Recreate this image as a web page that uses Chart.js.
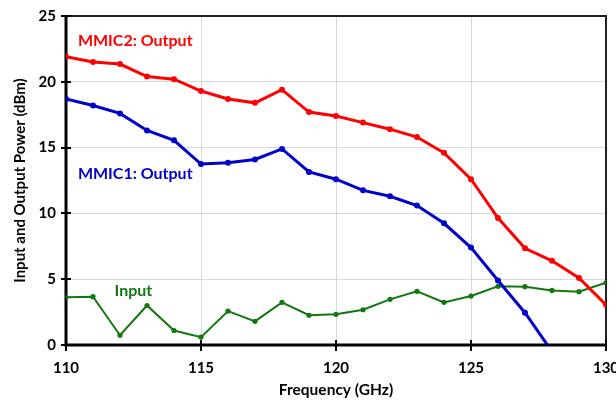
<!DOCTYPE html>
<html><head><meta charset="utf-8">
<script src="https://cdn.jsdelivr.net/npm/chart.js@4.4.1/dist/chart.umd.min.js"></script>
<style>html,body{margin:0;padding:0;background:#fff}#wrap{width:616px;height:402px}</style>
</head><body><div id="wrap"><canvas id="c" width="616" height="402"></canvas></div>
<script>
const freqs = [110,111,112,113,114,115,116,117,118,119,120,121,122,123,124,125,126,127,128,129,130];
const mmic2Output = [21.9,21.5,21.35,20.4,20.2,19.3,18.7,18.4,19.4,17.7,17.4,16.9,16.4,15.8,14.6,12.6,9.65,7.35,6.4,5.1,3.05];
const mmic1Output = [18.7,18.2,17.6,16.3,15.55,13.75,13.85,14.1,14.9,13.15,12.6,11.75,11.3,10.6,9.25,7.4,4.9,2.45,-0.5];
const inputPower = [3.62,3.67,0.74,3.0,1.1,0.6,2.58,1.8,3.24,2.26,2.33,2.68,3.47,4.08,3.24,3.72,4.46,4.43,4.15,4.05,4.73];
const xTicks = [110,115,120,125,130];
const yTicks = [0,5,10,15,20,25];
const annotations = [
  {text:'MMIC2: Output', x:110.44, y:23.1, color:'#ff0000'},
  {text:'MMIC1: Output', x:110.44, y:13.0, color:'#0000cc'},
  {text:'Input', x:111.8, y:4.1, color:'#117711'}
];

const toPts = (vals) => vals.map((v,i)=>({x:freqs[i], y:v}));
const FONT = 'Lato, Carlito, Calibri, sans-serif';

const framePlugin = {
  id:'frame',
  beforeDatasetsDraw(chart){
    const {ctx, chartArea:a, scales:{x,y}} = chart;
    ctx.save();
    ctx.strokeStyle = '#222';
    ctx.lineWidth = 2;
    ctx.beginPath();
    ctx.moveTo(a.left, a.top); ctx.lineTo(a.right, a.top); ctx.lineTo(a.right, a.bottom);
    ctx.stroke();
    ctx.strokeStyle = '#000';
    ctx.lineWidth = 3;
    ctx.beginPath();
    ctx.moveTo(a.left, a.top-1); ctx.lineTo(a.left, a.bottom); ctx.lineTo(a.right+1, a.bottom);
    ctx.stroke();
    ctx.lineWidth = 2;
    ctx.beginPath();
    yTicks.forEach(t=>{const py=Math.round(y.getPixelForValue(t)); ctx.moveTo(a.left-5,py); ctx.lineTo(a.left+5,py);});
    xTicks.forEach(t=>{const px=Math.round(x.getPixelForValue(t)); ctx.moveTo(px,a.bottom-5); ctx.lineTo(px,a.bottom+6);});
    ctx.stroke();
    ctx.restore();
  },
  afterDatasetsDraw(chart){
    const {ctx, scales:{x,y}} = chart;
    ctx.save();
    ctx.font = 'bold 16px ' + FONT;
    ctx.textBaseline = 'middle';
    ctx.textAlign = 'left';
    annotations.forEach(an=>{
      ctx.fillStyle = an.color;
      ctx.fillText(an.text, x.getPixelForValue(an.x), y.getPixelForValue(an.y));
    });
    ctx.restore();
  }
};

new Chart(document.getElementById('c'), {
  type:'line',
  data:{datasets:[
    {label:'MMIC2: Output', data:toPts(mmic2Output), borderColor:'#ff0000', backgroundColor:'#ff0000', borderWidth:3, pointRadius:3, pointBorderWidth:0, tension:0},
    {label:'MMIC1: Output', data:toPts(mmic1Output), borderColor:'#0000cc', backgroundColor:'#0000cc', borderWidth:3, pointRadius:3, pointBorderWidth:0, tension:0},
    {label:'Input', data:toPts(inputPower), borderColor:'#117711', backgroundColor:'#117711', borderWidth:2, pointRadius:2.6, pointBorderWidth:0, tension:0}
  ]},
  options:{
    responsive:false, animation:false, devicePixelRatio:1,
    layout:{padding:{top:16,right:10,left:0,bottom:0}},
    plugins:{legend:{display:false}, tooltip:{enabled:false}},
    scales:{
      x:{type:'linear', min:110, max:130,
        afterBuildTicks(s){ s.ticks = xTicks.map(v=>({value:v})); },
        afterFit(s){ s.height = 57; s.paddingLeft = 0; s.paddingRight = 0; },
        grid:{color:'#d9d9d9', lineWidth:1, drawTicks:false},
        border:{display:false},
        ticks:{padding:14, color:'#000', font:{family:FONT, size:15, weight:'bold'}, maxRotation:0},
        title:{display:true, text:'Frequency (GHz)', color:'#000', font:{family:FONT, size:15.5, weight:'bold'}, padding:{top:0,bottom:3}}
      },
      y:{type:'linear', min:0, max:25,
        afterBuildTicks(s){ s.ticks = yTicks.map(v=>({value:v})); },
        afterFit(s){ s.width = 66; s.paddingTop = 0; s.paddingBottom = 0; },
        grid:{color:'#d9d9d9', lineWidth:1, drawTicks:false},
        border:{display:false},
        ticks:{padding:10, color:'#000', font:{family:FONT, size:15, weight:'bold'}},
        title:{display:true, text:'Input and Output Power (dBm)', color:'#000', font:{family:FONT, size:15, weight:'bold'}, padding:{top:11,bottom:0}}
      }
    }
  },
  plugins:[framePlugin]
});
</script></body></html>
